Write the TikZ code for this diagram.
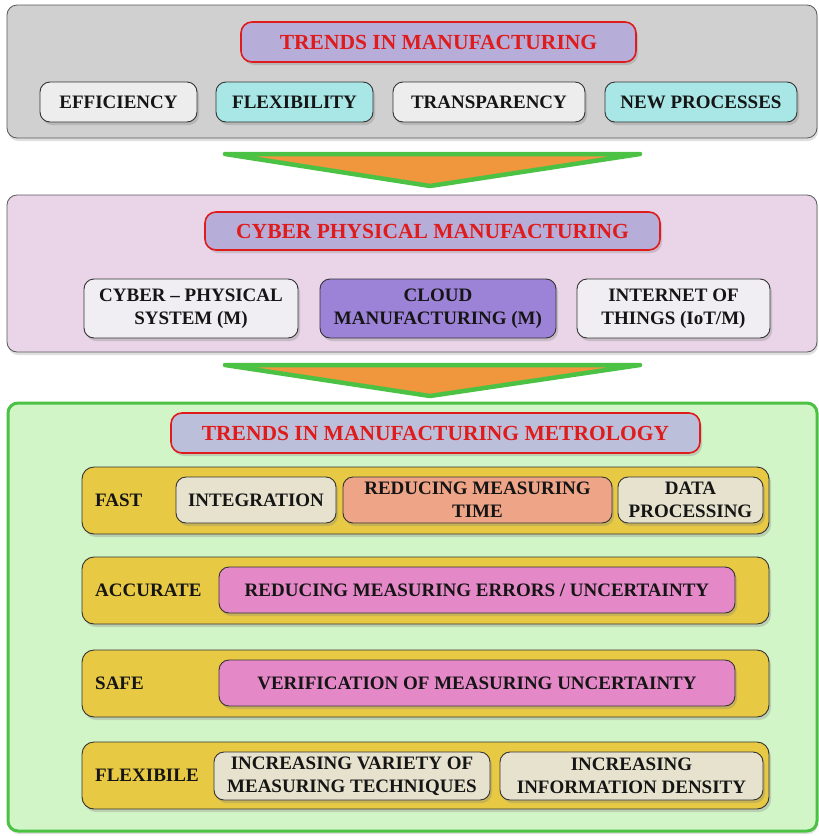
\documentclass[tikz,border=0pt]{standalone}
\usepackage{fontspec}
\setmainfont{Liberation Serif}[BoldFont={Liberation Serif Bold}]
\usetikzlibrary{shadows}

\definecolor{panelgray}{HTML}{D0D0D0}
\definecolor{panelpink}{HTML}{E9D4E8}
\definecolor{panelgreen}{HTML}{D2F5C8}
\definecolor{greenedge}{HTML}{4CC244}
\definecolor{titlefill}{HTML}{B6ADD8}
\definecolor{titlefilltwo}{HTML}{BCBFD9}
\definecolor{titlered}{HTML}{E01B1B}
\definecolor{boxwhite}{HTML}{EDEDED}
\definecolor{boxcyan}{HTML}{A9E6E6}
\definecolor{boxlilac}{HTML}{F1EEF3}
\definecolor{boxpurple}{HTML}{9D83D8}
\definecolor{baryellow}{HTML}{E8C944}
\definecolor{boxbeige}{HTML}{E6E2CD}
\definecolor{boxsalmon}{HTML}{EEA487}
\definecolor{boxpink}{HTML}{E588C8}
\definecolor{arroworange}{HTML}{F0963C}
\definecolor{inkdark}{HTML}{151515}

\tikzset{
  panel/.style={draw=black!65, line width=0.8pt, rounded corners=10pt,
    drop shadow={shadow xshift=1pt, shadow yshift=-3pt, opacity=0.25}},
  titlebox/.style={draw=titlered, line width=1.6pt, rounded corners=11pt,
    fill=titlefill, text=titlered, font=\fontsize{21.5}{24}\selectfont\bfseries,
    inner sep=0pt, align=center,
    drop shadow={shadow xshift=2pt, shadow yshift=-3pt, opacity=0.3}},
  itembox/.style={draw=black!80, line width=0.9pt, rounded corners=10pt,
    text=inkdark, font=\fontsize{19}{23}\selectfont\bfseries,
    inner sep=0pt, align=center,
    drop shadow={shadow xshift=2pt, shadow yshift=-3pt, opacity=0.3}},
  barbox/.style={draw=black!80, line width=0.9pt, rounded corners=12pt,
    fill=baryellow, inner sep=0pt,
    drop shadow={shadow xshift=2pt, shadow yshift=-3pt, opacity=0.3}},
  barlabel/.style={anchor=west, text=inkdark, inner sep=0pt,
    font=\fontsize{19}{23}\selectfont\bfseries},
  flowarrow/.style={draw=greenedge, fill=arroworange, line width=4.5pt,
    line join=round},
}

\begin{document}
\begin{tikzpicture}[x=1pt, y=-1pt]
\useasboundingbox (0,0) rectangle (819,836);

% ---------- trends in manufacturing ----------
\node[panel, fill=panelgray, minimum width=810, minimum height=133] (p1) at (412,71.5) {};
\node[titlebox, minimum width=395, minimum height=40] (t1) at (438.5,42) {TRENDS IN MANUFACTURING};
\node[itembox, fill=boxwhite, minimum width=157, minimum height=40] (eff) at (118.5,102) {EFFICIENCY};
\node[itembox, fill=boxcyan, minimum width=157, minimum height=40] (flx) at (294.5,102) {FLEXIBILITY};
\node[itembox, fill=boxwhite, minimum width=192, minimum height=40] (trn) at (489,102) {TRANSPARENCY};
\node[itembox, fill=boxcyan, minimum width=192, minimum height=40] (nwp) at (701,102) {NEW PROCESSES};

% ---------- arrow 1 ----------
\coordinate (a1l) at (225,154);
\coordinate (a1r) at (640,154);
\coordinate (a1b) at (430,186);
\draw[flowarrow] (a1l) -- (a1r) -- (a1b) -- cycle;

% ---------- cyber physical manufacturing ----------
\node[panel, fill=panelpink, minimum width=810, minimum height=157] (p2) at (412,273.5) {};
\node[titlebox, minimum width=455, minimum height=38] (t2) at (432.5,231) {CYBER PHYSICAL MANUFACTURING};
\node[itembox, fill=boxlilac, minimum width=214, minimum height=59] (cps) at (191,308.5) {CYBER -- PHYSICAL\\SYSTEM (M)};
\node[itembox, fill=boxpurple, minimum width=236, minimum height=59] (cld) at (438,308.5) {CLOUD\\MANUFACTURING (M)};
\node[itembox, fill=boxlilac, minimum width=193, minimum height=59] (iot) at (673.5,308.5) {INTERNET OF\\THINGS (IoT/M)};

% ---------- arrow 2 ----------
\coordinate (a2l) at (225,365);
\coordinate (a2r) at (640,365);
\coordinate (a2b) at (430,396);
\draw[flowarrow] (a2l) -- (a2r) -- (a2b) -- cycle;

% ---------- trends in manufacturing metrology ----------
\node[panel, draw=greenedge, line width=3pt, fill=panelgreen, minimum width=809, minimum height=428] (p3) at (412.5,617) {};
\node[titlebox, fill=titlefilltwo, minimum width=529, minimum height=40] (t3) at (435.5,433) {TRENDS IN MANUFACTURING METROLOGY};

% fast
\node[barbox, minimum width=687, minimum height=67] (bfast) at (425.5,500.5) {};
\node[barlabel] (lfast) at (95,500.5) {FAST};
\node[itembox, fill=boxbeige, minimum width=160, minimum height=46] (integ) at (256,500) {INTEGRATION};
\node[itembox, fill=boxsalmon, minimum width=269, minimum height=46] (rmt) at (477.5,500) {REDUCING MEASURING\\TIME};
\node[itembox, fill=boxbeige, minimum width=145, minimum height=46] (dproc) at (690.5,500) {DATA\\PROCESSING};

% accurate
\node[barbox, minimum width=687, minimum height=67] (bacc) at (425.5,590.5) {};
\node[barlabel] (lacc) at (95,590.5) {ACCURATE};
\node[itembox, fill=boxpink, minimum width=516, minimum height=46] (rme) at (477,590) {REDUCING MEASURING ERRORS / UNCERTAINTY};

% safe
\node[barbox, minimum width=687, minimum height=67] (bsafe) at (425.5,683.5) {};
\node[barlabel] (lsafe) at (95,683.5) {SAFE};
\node[itembox, fill=boxpink, minimum width=516, minimum height=46] (vmu) at (477,683) {VERIFICATION OF MEASURING UNCERTAINTY};

% flexible
\node[barbox, minimum width=687, minimum height=67] (bflex) at (425.5,775.5) {};
\node[barlabel] (lflex) at (95,775.5) {FLEXIBILE};
\node[itembox, fill=boxbeige, minimum width=276, minimum height=48] (ivm) at (352,776) {INCREASING VARIETY OF\\MEASURING TECHNIQUES};
\node[itembox, fill=boxbeige, minimum width=263, minimum height=48] (iid) at (631.5,776) {INCREASING\\INFORMATION DENSITY};
\end{tikzpicture}
\end{document}
